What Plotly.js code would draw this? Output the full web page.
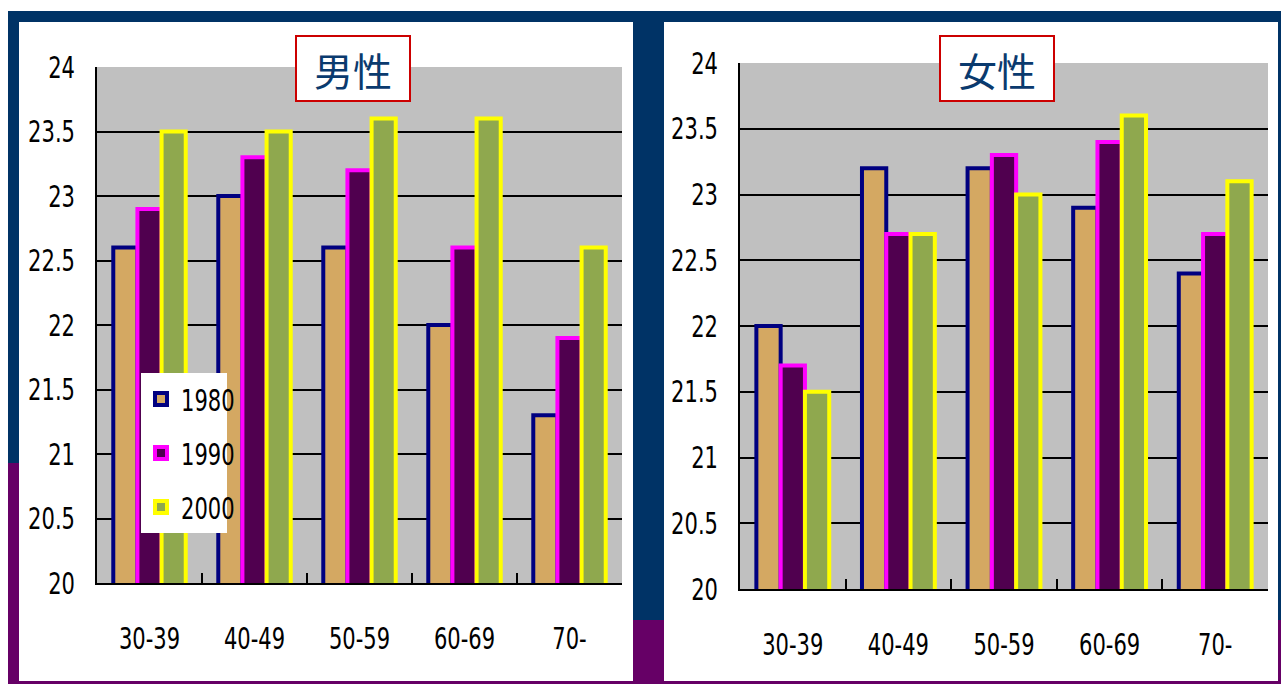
<!DOCTYPE html>
<html>
<head>
<meta charset="utf-8">
<script src="https://cdn.plot.ly/plotly-3.0.1.min.js"></script>
<style>
  html, body { margin: 0; padding: 0; background: #ffffff; }
  #chart { width: 1281px; height: 684px; }
  #chart .xtick text, #chart .ytick text, #chart .x2tick text, #chart .y2tick text, #chart .legendtext { font-stretch: condensed !important; }
</style>
</head>
<body>
<div id="chart"></div>
<script>
// Age groups and survey years
const ageGroups = ['30-39', '40-49', '50-59', '60-69', '70-'];
const years = ['1980', '1990', '2000'];

// Average values by age group, men
const male1980 = [22.6, 23.0, 22.6, 22.0, 21.3];
const male1990 = [22.9, 23.3, 23.2, 22.6, 21.9];
const male2000 = [23.5, 23.5, 23.6, 23.6, 22.6];

// Average values by age group, women
const female1980 = [22.0, 23.2, 23.2, 22.9, 22.4];
const female1990 = [21.7, 22.7, 23.3, 23.4, 22.7];
const female2000 = [21.5, 22.7, 23.0, 23.6, 23.1];

// Value axis ticks
const yTickVals = [20, 20.5, 21, 21.5, 22, 22.5, 23, 23.5, 24];
const yTickText = ['20', '20.5', '21', '21.5', '22', '22.5', '23', '23.5', '24'];

const panelTitles = ['男性', '女性'];

// ---- styling ----
const W = 1281, H = 684;
const px = x => x / W;
const py = y => 1 - y / H;

const fills = ['#D4A862', '#50004F', '#8FA84E'];
const outlines = ['#000080', '#FF00FF', '#FFFF00'];
const tickFont = {family: '"DejaVu Sans Condensed", "DejaVu Sans", "Liberation Sans Narrow", sans-serif', size: 30, color: '#000000'};

const maleSeries = [male1980, male1990, male2000];
const femaleSeries = [female1980, female1990, female2000];

const traces = [];
years.forEach((yr, i) => {
  traces.push({
    type: 'bar', name: yr, x: ageGroups, y: maleSeries[i],
    xaxis: 'x', yaxis: 'y', legendgroup: yr, showlegend: true,
    marker: {color: fills[i], line: {color: outlines[i], width: 4}},
    hoverinfo: 'skip'
  });
});
years.forEach((yr, i) => {
  traces.push({
    type: 'bar', name: yr, x: ageGroups, y: femaleSeries[i],
    xaxis: 'x2', yaxis: 'y2', legendgroup: yr, showlegend: false,
    marker: {color: fills[i], line: {color: outlines[i], width: 4}},
    hoverinfo: 'skip'
  });
});

function xAxis(domain, anchor) {
  return {
    domain: domain, anchor: anchor, type: 'category',
    range: [-0.5, 4.5], fixedrange: true,
    showline: true, linecolor: '#000000', linewidth: 2,
    ticks: 'inside', tickson: 'boundaries', ticklen: 10, tickwidth: 2, tickcolor: '#000000',
    showgrid: false, tickfont: tickFont, ticklabelstandoff: 28
  };
}
function yAxis(domain, anchor) {
  return {
    domain: domain, anchor: anchor, range: [20, 24], fixedrange: true,
    tickvals: yTickVals, ticktext: yTickText,
    showline: true, linecolor: '#000000', linewidth: 2,
    ticks: 'inside', ticklen: 8, tickwidth: 2, tickcolor: '#000000',
    showgrid: true, gridcolor: '#000000', gridwidth: 2,
    zeroline: false, tickfont: tickFont, ticklabelstandoff: 14
  };
}

const navy = '#003366', purple = '#660066';
function rect(x0, y0, x1, y1, color) {
  return {type: 'rect', xref: 'paper', yref: 'paper', layer: 'below',
          x0: px(x0), x1: px(x1), y0: py(y1), y1: py(y0),
          fillcolor: color, line: {width: 0}};
}

const shapes = [
  rect(8, 11, 1281, 22, navy),        // top band
  rect(8, 11, 19, 463, navy),         // left edge
  rect(8, 463, 19, 684, purple),
  rect(633, 11, 664, 620, navy),      // centre divider
  rect(633, 620, 664, 684, purple),
  rect(1278, 11, 1281, 620, navy),    // right edge
  rect(1278, 620, 1281, 684, purple),
  rect(8, 681, 1281, 684, purple)     // bottom edge
];

function titleBox(text, cx) {
  return {
    text: text, xref: 'paper', yref: 'paper', x: px(cx), y: py(68.5),
    xanchor: 'center', yanchor: 'middle', showarrow: false,
    width: 112, height: 63, bgcolor: '#ffffff',
    bordercolor: '#CC0000', borderwidth: 2, borderpad: 0,
    font: {family: '"Noto Sans CJK JP", sans-serif', size: 39, color: '#0A3A6E'}
  };
}

const layout = {
  width: W, height: H,
  margin: {l: 0, r: 0, t: 0, b: 0},
  paper_bgcolor: '#ffffff', plot_bgcolor: '#C0C0C0',
  barmode: 'group', bargap: 0.31, bargroupgap: 0,
  xaxis: xAxis([px(97), px(622)], 'y'),
  yaxis: yAxis([py(583), py(67)], 'x'),
  xaxis2: xAxis([px(740), px(1268)], 'y2'),
  yaxis2: yAxis([py(589), py(63)], 'x2'),
  showlegend: true,
  legend: {
    x: px(141), y: py(373), xanchor: 'left', yanchor: 'top',
    bgcolor: '#ffffff', borderwidth: 0, tracegroupgap: 12,
    font: tickFont, itemwidth: 30
  },
  shapes: shapes,
  annotations: [titleBox(panelTitles[0], 353.5), titleBox(panelTitles[1], 997)]
};

// Squeeze axis and legend labels horizontally into a narrow, tall face
const labelSelector = '.xtick text, .ytick text, .x2tick text, .y2tick text, .legendtext';
function narrowLabels() {
  const gd = document.getElementById('chart');
  gd.querySelectorAll(labelSelector).forEach(t => {
    if (t.dataset.narrowed === t.textContent) return;
    t.removeAttribute('textLength');
    const w = t.getComputedTextLength();
    if (w > 0) {
      t.setAttribute('textLength', (w * 0.78).toFixed(1));
      t.setAttribute('lengthAdjust', 'spacingAndGlyphs');
      t.dataset.narrowed = t.textContent;
    }
  });
  // tighten the legend background to the narrower labels
  const bg = gd.querySelector('.legend .bg');
  if (bg) bg.setAttribute('width', 86);
}

const gd = document.getElementById('chart');
Plotly.newPlot(gd, traces, layout, {staticPlot: true, displayModeBar: false})
  .then(() => {
    narrowLabels();
    gd.on('plotly_afterplot', narrowLabels);
  });
</script>
</body>
</html>
